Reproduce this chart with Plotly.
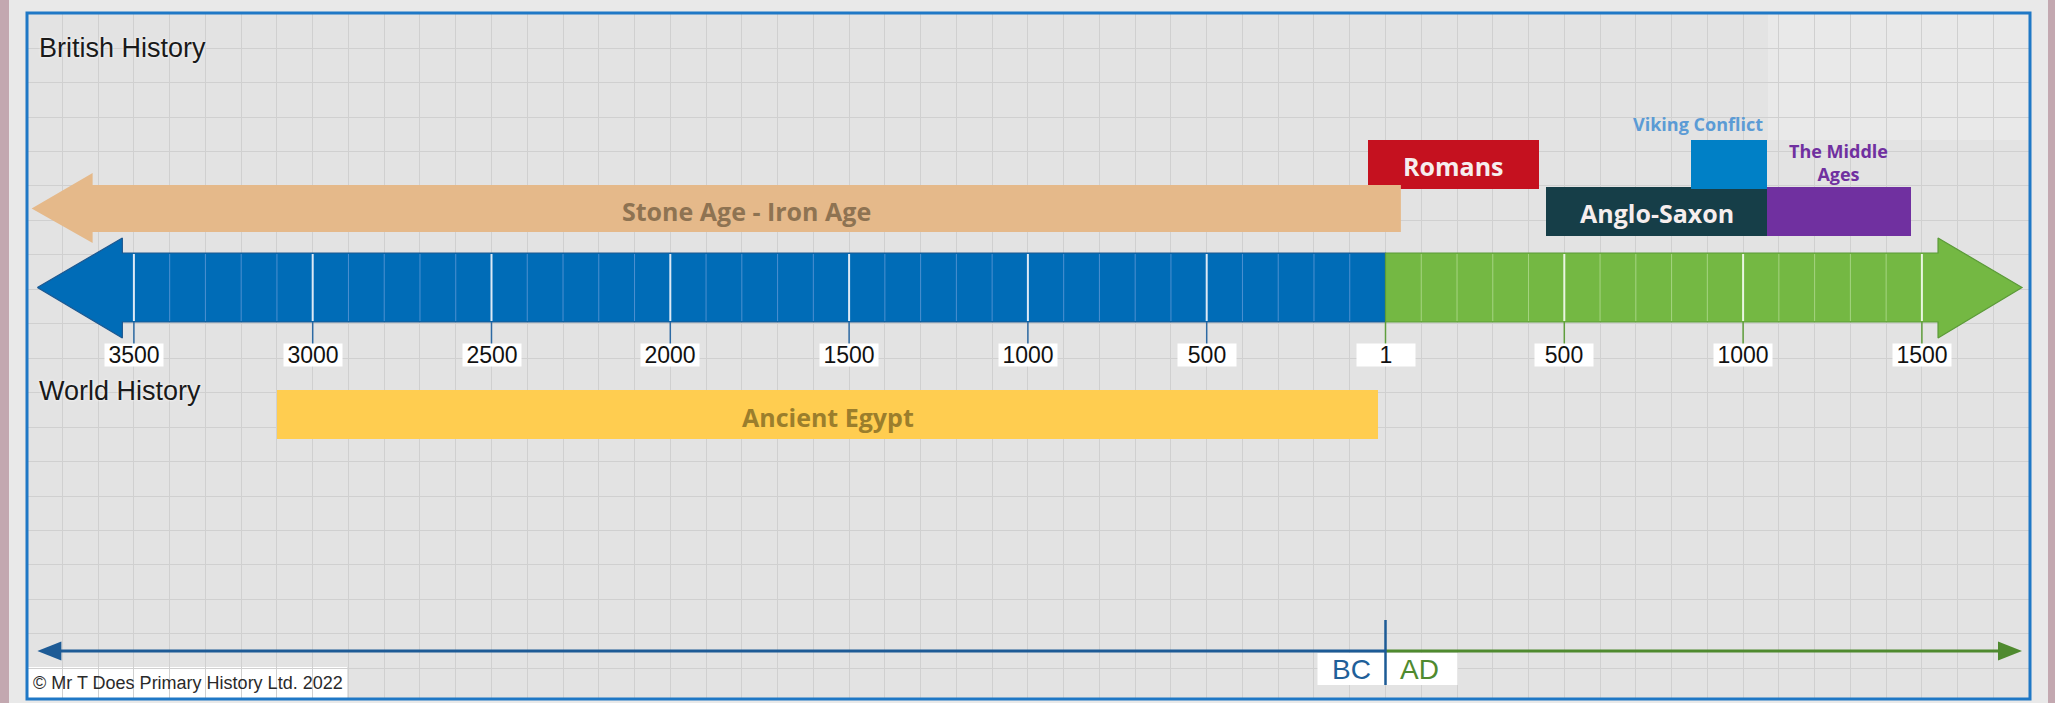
import plotly.graph_objects as go

# ------------------------------------------------------------------ data
tick_years = [-3500, -3000, -2500, -2000, -1500, -1000, -500, 0, 500, 1000, 1500]
tick_labels = ["3500", "3000", "2500", "2000", "1500", "1000", "500", "1", "500", "1000", "1500"]
minor_years = list(range(-3500, 1501, 100))

timeline_start = -3770   # left arrow tip (BC)
timeline_end = 1780      # right arrow tip (AD)
era_split = 0

stone_age_label = "Stone Age - Iron Age"
stone_age_start = -3786  # arrow tip
stone_age_end = 43

british_periods = ["Romans", "Anglo-Saxon", "Viking Conflict", "The Middle Ages"]
british_start = [-50, 450, 855, 1066]
british_end = [430, 1066, 1066, 1470]

world_periods = ["Ancient Egypt"]
world_start = [-3100]
world_end = [-20]

copyright_text = "© Mr T Does Primary History Ltd. 2022"

# ------------------------------------------------------------------ layout helpers
W, H = 2055, 703
S = 0.3576            # pixels per year
ZERO_PX = 1385.5      # pixel x of year 1
L, R, T, B = 27, 2030, 13, 699
x_range = [(L - ZERO_PX) / S, (R - ZERO_PX) / S]

BLUE = "#006cb7"
GREEN = "#74b843"
british_colors = ["#c5111f", "#163e48", "#0080c6", "#7030a0"]
british_rows = [164.5, 211.5, 164.5, 211.5]
row_h = 49
ARIAL = "Liberation Sans, Arial, sans-serif"
LABEL_FONT = "Open Sans, sans-serif"

fig = go.Figure()

# --- Stone Age arrow (polygon) ---
sa_base = stone_age_start + 61 / S
sa_top, sa_bot, sa_mid = 185, 232, 208.5
fig.add_trace(go.Scatter(
    x=[stone_age_start, sa_base, sa_base, stone_age_end, stone_age_end, sa_base, sa_base, stone_age_start],
    y=[sa_mid, 173, sa_top, sa_top, sa_bot, sa_bot, 243, sa_mid],
    fill="toself", fillcolor="#e5b98a", line=dict(width=0), mode="lines", hoverinfo="skip"))

# --- British periods (bars) ---
fig.add_trace(go.Bar(
    orientation="h", base=british_start,
    x=[e - s for s, e in zip(british_start, british_end)],
    y=british_rows, width=[row_h] * 4,
    marker=dict(color=british_colors, line=dict(width=0)), hoverinfo="skip"))

# --- World periods ---
fig.add_trace(go.Bar(
    orientation="h", base=world_start,
    x=[e - s for s, e in zip(world_start, world_end)],
    y=[414.5], width=[49],
    marker=dict(color="#ffcd50", line=dict(width=0)), hoverinfo="skip"))

# --- Main timeline arrows ---
bar_top, bar_bot, bar_mid = 253, 322, 287.5
head_top, head_bot = 238, 338
b_base = timeline_start + 85 / S
g_base = timeline_end - 84 / S
fig.add_trace(go.Scatter(
    x=[timeline_start, b_base, b_base, era_split, era_split, b_base, b_base, timeline_start],
    y=[bar_mid, head_top, bar_top, bar_top, bar_bot, bar_bot, head_bot, bar_mid],
    fill="toself", fillcolor=BLUE, line=dict(width=1.2, color="#1d5890"), mode="lines", hoverinfo="skip"))
fig.add_trace(go.Scatter(
    x=[era_split, g_base, g_base, timeline_end, g_base, g_base, era_split, era_split],
    y=[bar_top, bar_top, head_top, bar_mid, head_bot, bar_bot, bar_bot, bar_top],
    fill="toself", fillcolor=GREEN, line=dict(width=1.2, color="#5b9a38"), mode="lines", hoverinfo="skip"))

# minor / major lines inside bar
def seg(years, y0, y1):
    xs, ys = [], []
    for yr in years:
        xs += [yr, yr, None]
        ys += [y0, y1, None]
    return xs, ys

bc_minor = [y for y in minor_years if y < 0 and y not in tick_years]
ad_minor = [y for y in minor_years if y > 0 and y not in tick_years]
for yrs, col, w in [(bc_minor, "#4d90d0", 1), (ad_minor, "#a6d482", 1),
                    ([y for y in tick_years if y < 0], "#dce9f5", 2),
                    ([y for y in tick_years if y > 0], "#eaf5e2", 2)]:
    xs, ys = seg(yrs, bar_top + 1, bar_bot - 1)
    fig.add_trace(go.Scatter(x=xs, y=ys, mode="lines", line=dict(color=col, width=w), hoverinfo="skip"))

# ticks below bar
xs, ys = seg([y for y in tick_years if y < 0], bar_bot, 345)
fig.add_trace(go.Scatter(x=xs, y=ys, mode="lines", line=dict(color="#2d6aa3", width=1.5), hoverinfo="skip"))
xs, ys = seg([y for y in tick_years if y >= 0], bar_bot, 345)
fig.add_trace(go.Scatter(x=xs, y=ys, mode="lines", line=dict(color="#5f9e3c", width=1.5), hoverinfo="skip"))

# --- BC / AD arrow at bottom ---
ly = 651
hl = 24 / S
fig.add_trace(go.Scatter(x=[timeline_start + hl * 0.8, era_split], y=[ly, ly], mode="lines",
                         line=dict(color="#1d5b96", width=3), hoverinfo="skip"))
fig.add_trace(go.Scatter(x=[era_split, timeline_end - hl * 0.8], y=[ly, ly], mode="lines",
                         line=dict(color="#4f8a2f", width=3), hoverinfo="skip"))
fig.add_trace(go.Scatter(x=[timeline_start, timeline_start + hl, timeline_start + hl, timeline_start],
                         y=[ly, ly - 9.5, ly + 9.5, ly], fill="toself", fillcolor="#1d5b96",
                         line=dict(width=0), mode="lines", hoverinfo="skip"))
fig.add_trace(go.Scatter(x=[timeline_end, timeline_end - hl, timeline_end - hl, timeline_end],
                         y=[ly, ly - 9.5, ly + 9.5, ly], fill="toself", fillcolor="#4f8a2f",
                         line=dict(width=0), mode="lines", hoverinfo="skip"))

shapes = [
    # lighter patch top right
    dict(type="rect", xref="paper", yref="y", x0=(1768 - L) / (R - L), x1=1, y0=T, y1=140,
         fillcolor="rgba(238,238,238,0.55)", line=dict(width=0), layer="between"),
    # BC/AD white box
    dict(type="rect", xref="x", yref="y", x0=era_split - 68 / S, x1=era_split + 72 / S, y0=653, y1=685,
         fillcolor="white", line=dict(width=0), layer="between"),
    # copyright white box
    dict(type="rect", xref="paper", yref="y", x0=0, x1=(347 - L) / (R - L), y0=667, y1=B,
         fillcolor="white", line=dict(width=0), layer="between"),
    # pink strips
    dict(type="rect", xref="paper", yref="paper", x0=(0 - L) / (R - L), x1=(9 - L) / (R - L),
         y0=-0.02, y1=1.03, fillcolor="#c3a8b0", line=dict(width=0), layer="above"),
    dict(type="rect", xref="paper", yref="paper", x0=(2048 - L) / (R - L), x1=(2056 - L) / (R - L),
         y0=-0.02, y1=1.03, fillcolor="#c3a8b0", line=dict(width=0), layer="above"),
    # border
    dict(type="rect", xref="paper", yref="paper", x0=0, x1=1, y0=0, y1=1,
         fillcolor="rgba(0,0,0,0)", line=dict(color="#1f78c6", width=3), layer="above"),
]
# BC / AD divider as trace
fig.add_trace(go.Scatter(x=[era_split, era_split], y=[620, 685], mode="lines",
                         line=dict(color="#1d5b96", width=2.5), hoverinfo="skip"))

ann = []
# tick labels
for yr, lab in zip(tick_years, tick_labels):
    ann.append(dict(x=yr, y=355, xref="x", yref="y", text=lab, showarrow=False,
                    font=dict(family=ARIAL, size=23, color="#111111"),
                    bgcolor="white", width=56, height=20, borderpad=1))

# period labels
ann.append(dict(x=(sa_base + stone_age_end) / 2, y=211, text=stone_age_label, showarrow=False,
                font=dict(family=LABEL_FONT, size=25, color="#8e7352", weight=700)))
for i in (0, 1):
    ann.append(dict(x=(british_start[i] + british_end[i]) / 2, y=british_rows[i] + 1,
                    text=british_periods[i], showarrow=False,
                    font=dict(family=LABEL_FONT, size=25, color="#f6eeee", weight=700)))
ann.append(dict(x=british_end[2], y=124, xanchor="right", xshift=-2, text=british_periods[2],
                showarrow=False, font=dict(family=LABEL_FONT, size=18, color="#5b9bd5", weight=700)))
ann.append(dict(x=(british_start[3] + british_end[3]) / 2, y=162, text="The Middle<br>Ages",
                showarrow=False, font=dict(family=LABEL_FONT, size=18, color="#7030a0", weight=700)))
ann.append(dict(x=(world_start[0] + world_end[0]) / 2, y=417, text=world_periods[0], showarrow=False,
                font=dict(family=LABEL_FONT, size=25, color="#9b7e2c", weight=700)))

# section titles
for txt, yy in [("British History", 48), ("World History", 391)]:
    ann.append(dict(x=0, xref="paper", y=yy, yref="y", xanchor="left", xshift=10, text=txt,
                    showarrow=False,
                    font=dict(family=ARIAL, size=27, color="#1a1a1a", shadow="0px 0px 3px #ffffff")))

# BC / AD
ann.append(dict(x=era_split, y=669, xshift=-34, text="BC", showarrow=False,
                font=dict(family=ARIAL, size=28, color="#1f5f99")))
ann.append(dict(x=era_split, y=669, xshift=34, text="AD", showarrow=False,
                font=dict(family=ARIAL, size=28, color="#4f8a2f")))

# copyright
ann.append(dict(x=0, xref="paper", y=683, yref="y", xanchor="left", xshift=4, text=copyright_text,
                showarrow=False, font=dict(family=ARIAL, size=18, color="#2a2a2a")))

fig.update_layout(
    width=W, height=H,
    margin=dict(l=L, r=W - R, t=T, b=H - B, pad=0),
    paper_bgcolor="#e9e9e9", plot_bgcolor="#e3e3e3",
    showlegend=False, barmode="overlay", bargap=0,
    shapes=shapes, annotations=ann,
    xaxis=dict(range=x_range, showgrid=True, gridcolor="#d0d0d0", gridwidth=1, dtick=100, tick0=0,
               showticklabels=False, zeroline=False, ticks="", fixedrange=True),
    yaxis=dict(range=[B, T], showgrid=True, gridcolor="#d0d0d0", gridwidth=1, dtick=34.45, tick0=13.7,
               showticklabels=False, zeroline=False, ticks="", fixedrange=True),
    hovermode=False,
)

fig.write_html("out.html", config={"displayModeBar": False},
               post_script="document.body.style.margin='0px';document.body.style.overflow='hidden';")
